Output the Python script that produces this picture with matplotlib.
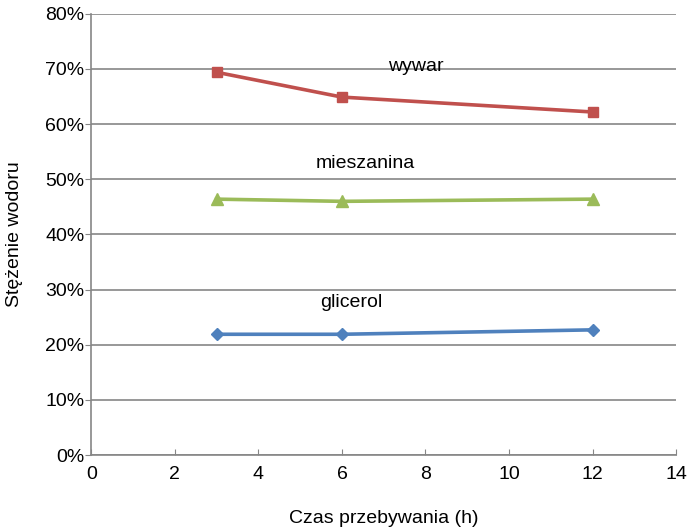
import matplotlib.pyplot as plt
from matplotlib.ticker import FuncFormatter

plt.rcParams['font.family'] = ['Liberation Sans', 'DejaVu Sans']

czas = [3, 6, 12]
wywar = [69.4, 64.9, 62.2]
mieszanina = [46.4, 46.0, 46.4]
glicerol = [21.9, 21.9, 22.7]

fig = plt.figure(figsize=(6.92, 5.31), dpi=100)
ax = fig.add_axes([0.132, 0.143, 0.845, 0.831])

ax.plot(czas, wywar, color='#C0504D', lw=2.6, marker='s', ms=7, zorder=3)
ax.plot(czas, mieszanina, color='#9BBB59', lw=2.6, marker='^', ms=8, zorder=3)
ax.plot(czas, glicerol, color='#4F81BD', lw=2.6, marker='D', ms=6, zorder=3)

fs = 14
ax.text(7.78, 70.5, 'wywar', ha='center', va='center', fontsize=fs)
ax.text(6.55, 52.9, 'mieszanina', ha='center', va='center', fontsize=fs)
ax.text(6.23, 27.7, 'glicerol', ha='center', va='center', fontsize=fs)

ax.set_xlim(0, 14)
ax.set_ylim(0, 80)
ax.set_xticks(range(0, 15, 2))
ax.set_yticks(range(0, 81, 10))
ax.yaxis.set_major_formatter(FuncFormatter(lambda v, p: '%d%%' % v))
ax.yaxis.grid(True, color='#868686', lw=1.2)
ax.set_axisbelow(True)

for s in ['top', 'right']:
    ax.spines[s].set_visible(False)
for s in ['left', 'bottom']:
    ax.spines[s].set_color('#868686')
    ax.spines[s].set_linewidth(1.2)

ax.tick_params(axis='x', direction='in', length=4, color='#868686', labelsize=fs, pad=8)
ax.tick_params(axis='y', direction='out', length=4, color='#868686', labelsize=fs, pad=1)

ax.set_xlabel('Czas przebywania (h)', fontsize=fs, labelpad=19)
ax.set_ylabel('Stężenie wodoru', fontsize=fs, labelpad=16)

fig.savefig('out.png', dpi=100)
